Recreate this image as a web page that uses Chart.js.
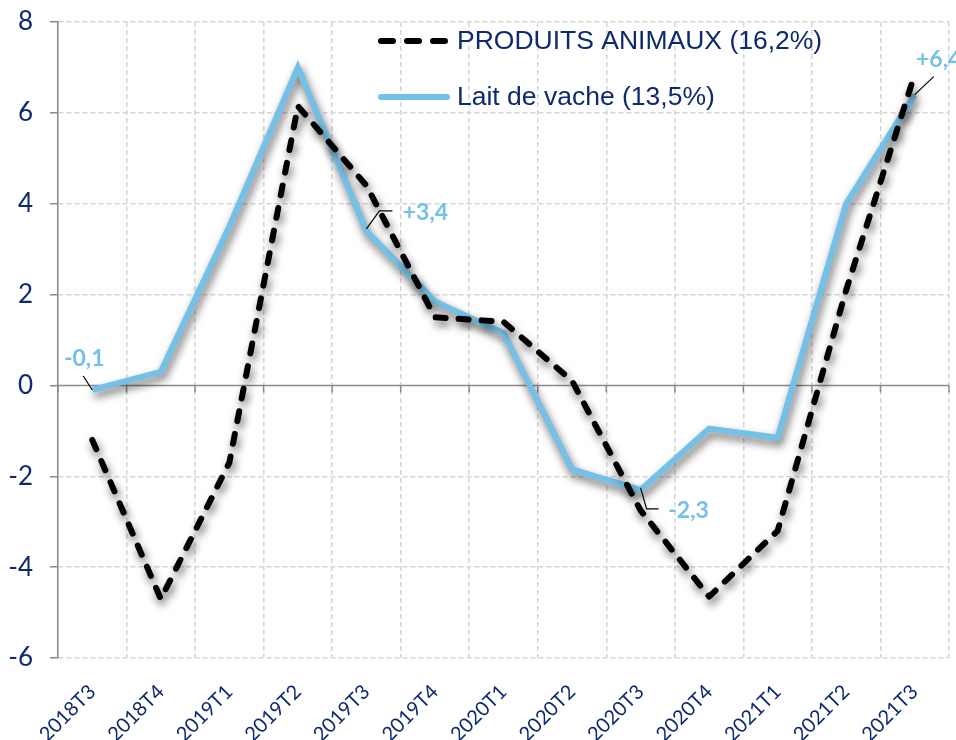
<!DOCTYPE html>
<html>
<head>
<meta charset="utf-8">
<script src="https://cdn.jsdelivr.net/npm/chart.js@4/dist/chart.umd.min.js"></script>
<style>
  html, body { margin: 0; padding: 0; background: #ffffff; }
  #wrap { width: 956px; height: 740px; position: relative; }
</style>
</head>
<body>
<div id="wrap"><canvas id="c" width="956" height="740"></canvas></div>
<script>
// ---- Data ----
const categories = ["2018T3","2018T4","2019T1","2019T2","2019T3","2019T4","2020T1","2020T2","2020T3","2020T4","2021T1","2021T2","2021T3"];
const produitsAnimaux = [-1.2, -4.7, -1.7, 6.15, 4.4, 1.5, 1.4, 0.1, -2.75, -4.65, -3.2, 2.1, 6.85];
const laitDeVache = [-0.1, 0.3, 3.5, 7.0, 3.4, 1.85, 1.15, -1.85, -2.3, -0.95, -1.15, 4.0, 6.4];
const seriesNames = ["PRODUITS ANIMAUX (16,2%)", "Lait de vache (13,5%)"];
const yTicks = [-6, -4, -2, 0, 2, 4, 6, 8];
const labelIndexes = [0, 4, 8, 12];
const labelTexts = ["-0,1", "+3,4", "-2,3", "+6,4"];

const NAVY = "#0e2a6e";
const BLUE = "#74c0e7";
const GRID = "#d6d6d6";
const AXIS = "#8a8a8a";

// Zero line + category ticks on it, and drop shadow for the lines
const shadowPlugin = {
  id: "shadowAndZero",
  beforeDatasetsDraw(chart) {
    const ctx = chart.ctx, x = chart.scales.x, y = chart.scales.y, ca = chart.chartArea;
    const y0 = y.getPixelForValue(0);
    ctx.save();
    ctx.strokeStyle = AXIS;
    ctx.lineWidth = 1.5;
    ctx.beginPath();
    ctx.moveTo(ca.left, y0);
    ctx.lineTo(ca.right, y0);
    const half = (x.getPixelForValue(1) - x.getPixelForValue(0)) / 2;
    for (let i = 0; i <= categories.length; i++) {
      const px = x.getPixelForValue(0) - half + i * 2 * half;
      ctx.moveTo(px, y0);
      ctx.lineTo(px, y0 + 7);
    }
    ctx.stroke();
    ctx.restore();
    ctx.save();
    ctx.shadowColor = "rgba(0,0,0,0.6)";
    ctx.shadowBlur = 8;
    ctx.shadowOffsetX = 2;
    ctx.shadowOffsetY = 5;
  },
  afterDatasetsDraw(chart) {
    chart.ctx.restore();
  }
};

// Data labels with leader lines
const labelPlugin = {
  id: "valueLabels",
  afterDatasetsDraw(chart) {
    const ctx = chart.ctx;
    const meta = chart.getDatasetMeta(1);
    const layout = [
      { path: [[-9, -14], [0, 0]], text: [-8, -31] },
      { path: [[0, -2], [13, -20], [26, -20]], text: [59, -18] },
      { path: [[0, -2], [6, 19], [18, 19]], text: [48, 21] },
      { path: [[0, 0], [19, -18]], text: [24, -35] }
    ];
    ctx.save();
    labelIndexes.forEach((idx, k) => {
      const p = meta.data[idx];
      const L = layout[k];
      ctx.strokeStyle = "#000";
      ctx.lineWidth = 1.2;
      ctx.beginPath();
      L.path.forEach((q, j) => {
        if (j === 0) ctx.moveTo(p.x + q[0], p.y + q[1]);
        else ctx.lineTo(p.x + q[0], p.y + q[1]);
      });
      ctx.stroke();
      ctx.fillStyle = BLUE;
      ctx.font = "bold 23px Lato";
      ctx.textAlign = "center";
      ctx.textBaseline = "middle";
      ctx.fillText(labelTexts[k], p.x + L.text[0], p.y + L.text[1]);
    });
    ctx.restore();
  }
};

// Legend drawn inside the plot area
const legendPlugin = {
  id: "innerLegend",
  afterDraw(chart) {
    const ctx = chart.ctx, ca = chart.chartArea;
    const x0 = ca.left + 320, x1 = ca.left + 392, tx = ca.left + 399;
    const rows = [ca.top + 19, ca.top + 75];
    ctx.save();
    ctx.lineCap = "round";
    ctx.strokeStyle = "#000";
    ctx.lineWidth = 6;
    ctx.setLineDash([12, 14]);
    ctx.beginPath(); ctx.moveTo(x0 + 3, rows[0]); ctx.lineTo(x1 - 3, rows[0]); ctx.stroke();
    ctx.setLineDash([]);
    ctx.strokeStyle = BLUE;
    ctx.beginPath(); ctx.moveTo(x0 + 3, rows[1]); ctx.lineTo(x1 - 3, rows[1]); ctx.stroke();
    ctx.fillStyle = NAVY;
    ctx.font = "26.5px 'Liberation Sans'";
    ctx.textAlign = "left";
    ctx.textBaseline = "middle";
    ctx.fillText(seriesNames[0], tx, rows[0] + 1);
    ctx.fillText(seriesNames[1], tx, rows[1] + 1);
    ctx.restore();
  }
};

new Chart(document.getElementById("c"), {
  type: "line",
  data: {
    labels: categories,
    datasets: [
      {
        label: seriesNames[0],
        data: produitsAnimaux,
        borderColor: "#000000",
        borderWidth: 6,
        borderDash: [10, 13],
        borderCapStyle: "round",
        borderJoinStyle: "round",
        pointRadius: 0,
        tension: 0,
        fill: false
      },
      {
        label: seriesNames[1],
        data: laitDeVache,
        borderColor: BLUE,
        borderWidth: 6,
        borderJoinStyle: "miter",
        pointRadius: 0,
        tension: 0,
        fill: false
      }
    ]
  },
  options: {
    responsive: false,
    animation: false,
    devicePixelRatio: 1,
    layout: { padding: { top: 22, right: 7, left: 0, bottom: 0 } },
    plugins: {
      legend: { display: false },
      tooltip: { enabled: false }
    },
    scales: {
      x: {
        offset: true,
        grid: {
          offset: true,
          color: GRID,
          lineWidth: 1.5,
          drawTicks: false
        },
        border: { display: false, dash: [5, 3] },
        ticks: {
          color: NAVY,
          font: { family: "Lato", size: 20 },
          minRotation: 45,
          maxRotation: 45,
          padding: 22,
          autoSkip: false
        },
        afterFit(scale) { scale.height = 82; scale.paddingRight = 0; }
      },
      y: {
        min: -6,
        max: 8,
        afterBuildTicks(scale) { scale.ticks = yTicks.map(v => ({ value: v })); },
        grid: {
          color: (c) => (c.tick && c.tick.value === 0 ? "rgba(0,0,0,0)" : GRID),
          lineWidth: 1.5,
          drawTicks: true,
          tickLength: 8,
          tickColor: AXIS,
          tickWidth: 1.5
        },
        border: { display: true, color: AXIS, width: 1.5, dash: [5, 3] },
        ticks: {
          color: NAVY,
          font: { family: "Lato", size: 26 },
          padding: 17
        },
        afterFit(scale) { scale.width = 58; scale.paddingTop = 0; scale.paddingBottom = 0; }
      }
    }
  },
  plugins: [shadowPlugin, labelPlugin, legendPlugin]
});
</script>
</body>
</html>
